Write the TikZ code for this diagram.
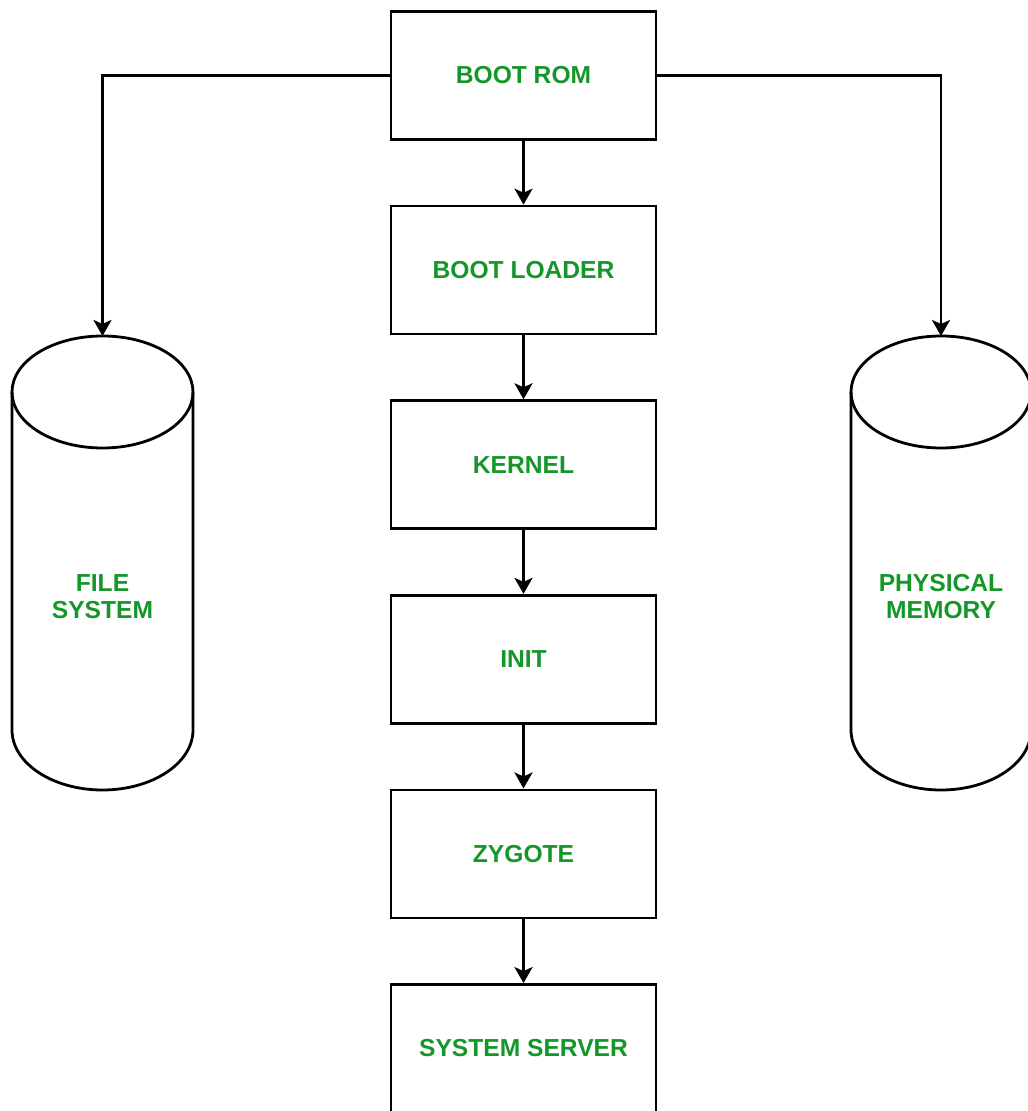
\documentclass[tikz,border=0pt]{standalone}
\usepackage{fontspec}
\setmainfont{Liberation Sans}
\usepackage{xcolor}
\usetikzlibrary{arrows.meta, positioning}
\definecolor{bootgreen}{RGB}{20,150,40}

\begin{document}
\begin{tikzpicture}[x=0.5pt, y=-0.5pt, >={Stealth[length=8pt, width=9pt, inset=2pt]},
  node distance=31.9pt,
  stage/.style={draw, line width=1.4pt, minimum width=132.5pt, minimum height=64pt, inner sep=0pt,
    font=\fontsize{12.3}{13.5}\selectfont\bfseries, text=bootgreen},
  label text/.style={inner sep=0pt, align=center, font=\fontsize{12.3}{13.5}\selectfont\bfseries, text=bootgreen},
  store/.style={line width=1.4pt},
  link/.style={->, line width=1.4pt}]
  \useasboundingbox (0,0) rectangle (1027,1111);
  \node[stage] (rom) at (523.5,75.5) {BOOT ROM};
  \node[stage, below=of rom] (loader) {BOOT LOADER};
  \node[stage, below=of loader] (kernel) {KERNEL};
  \node[stage, below=of kernel] (init) {INIT};
  \node[stage, below=of init] (zygote) {ZYGOTE};
  \node[stage, below=of zygote] (server) {SYSTEM SERVER};

  % storage cylinders
  \draw[store] (12,392) -- (12,730) arc[start angle=180, end angle=0, x radius=90.5, y radius=60] -- (193,392);
  \draw[store] (102.5,392) ellipse[x radius=90.5, y radius=56];
  \coordinate (files) at (102.5,336);
  \node[label text] (fileslabel) at (102.5,597) {FILE\\SYSTEM};

  \draw[store] (851,392) -- (851,730) arc[start angle=180, end angle=0, x radius=90, y radius=60] -- (1031,392);
  \draw[store] (941,392) ellipse[x radius=90, y radius=56];
  \coordinate (memory) at (941,336);
  \node[label text] (memorylabel) at (941,597) {PHYSICAL\\MEMORY};

  \draw[link] (rom) -- (loader);
  \draw[link] (loader) -- (kernel);
  \draw[link] (kernel) -- (init);
  \draw[link] (init) -- (zygote);
  \draw[link] (zygote) -- (server);
  \draw[link] (rom.west) -| (files);
  \draw[link] (rom.east) -| (memory);
\end{tikzpicture}
\end{document}
